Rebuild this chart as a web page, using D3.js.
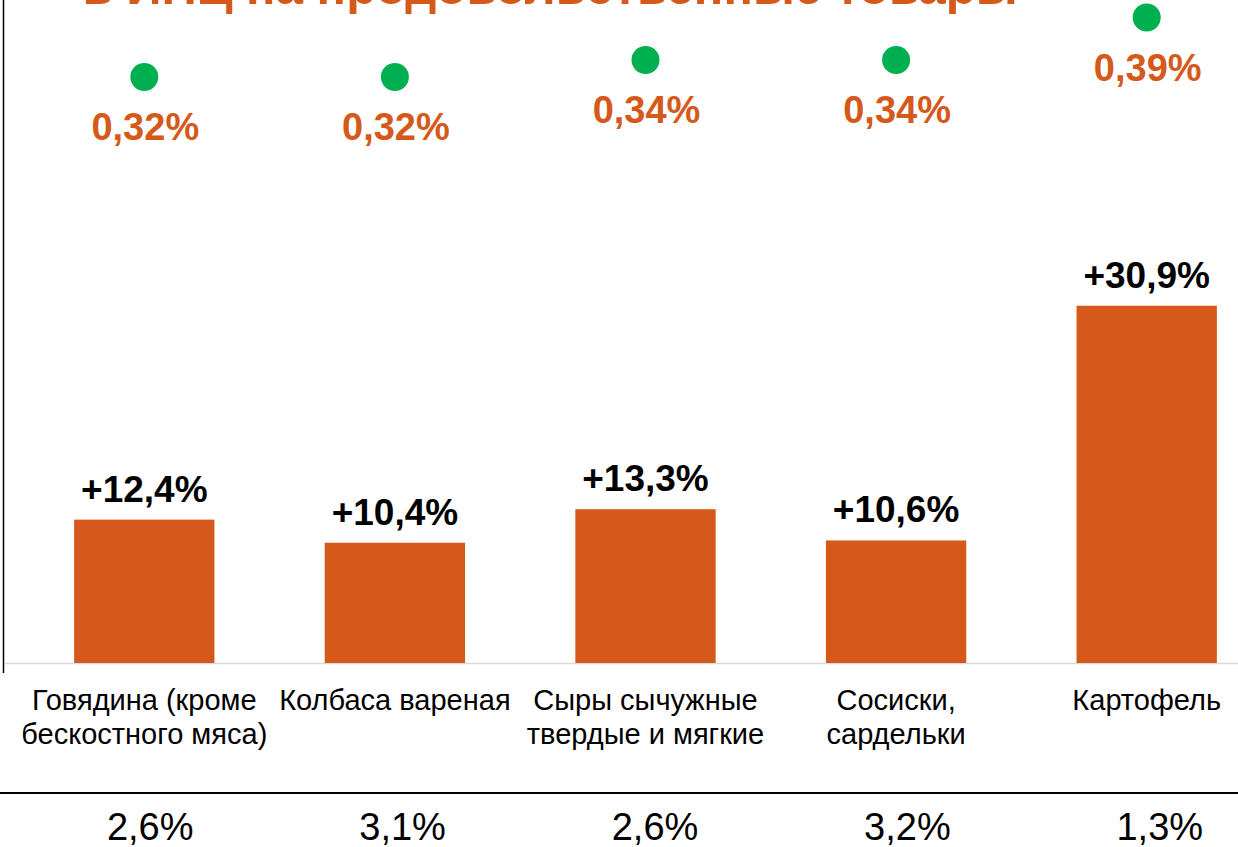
<!DOCTYPE html>
<html>
<head>
<meta charset="utf-8">
<script src="https://cdn.jsdelivr.net/npm/d3@7"></script>
<style>
  html, body { margin: 0; padding: 0; background: #fff; overflow: hidden; }
  svg { display: block; font-family: "Liberation Sans", Arial, sans-serif; }
</style>
</head>
<body>
<svg id="chart" width="1238" height="847"></svg>
<script>
const categories = [
  ["Говядина (кроме", "бескостного мяса)"],
  ["Колбаса вареная"],
  ["Сыры сычужные", "твердые и мягкие"],
  ["Сосиски,", "сардельки"],
  ["Картофель"]
];
const growth = [12.4, 10.4, 13.3, 10.6, 30.9];
const growthLabels = ["+12,4%", "+10,4%", "+13,3%", "+10,6%", "+30,9%"];
const contribution = [0.32, 0.32, 0.34, 0.34, 0.39];
const contributionLabels = ["0,32%", "0,32%", "0,34%", "0,34%", "0,39%"];
const weights = [2.6, 3.1, 2.6, 3.2, 1.3];
const weightLabels = ["2,6%", "3,1%", "2,6%", "3,2%", "1,3%"];
const titleText = "в ИПЦ на продовольственные товары";

const ORANGE = "#D5591A";
const GREEN = "#00B050";

const svg = d3.select("#chart");
const idx = d3.range(categories.length);

const x = d3.scaleBand().domain(idx).range([19, 1272]).paddingInner(0.44).paddingOuter(0.22);
const y = d3.scaleLinear().domain([0, 40]).range([663, 663 - 462.5]);
const y2 = d3.scaleLinear().domain([0.3, 0.4]).range([94, 9]);
const xb = d3.scaleBand().domain(idx).range([24, 1286]);

// title (cut off at top, as in the reference)
svg.append("text")
  .attr("x", 550).attr("y", 4)
  .attr("text-anchor", "middle")
  .attr("fill", ORANGE)
  .attr("font-weight", "bold")
  .attr("font-size", 49)
  .text(titleText);

// left vertical line
svg.append("line")
  .attr("x1", 3.5).attr("x2", 3.5)
  .attr("y1", 0).attr("y2", 673)
  .attr("stroke", "#000").attr("stroke-width", 1.5);

// baseline
svg.append("line")
  .attr("x1", 5).attr("x2", 1238)
  .attr("y1", y(0) + 0.5).attr("y2", y(0) + 0.5)
  .attr("stroke", "#d9d9d9").attr("stroke-width", 1.5);

// bars
svg.append("g").selectAll("rect").data(idx).join("rect")
  .attr("x", i => x(i))
  .attr("width", x.bandwidth())
  .attr("y", i => y(growth[i]))
  .attr("height", i => y(0) - y(growth[i]))
  .attr("fill", ORANGE);

// bar labels
svg.append("g").selectAll("text").data(idx).join("text")
  .attr("x", i => x(i) + x.bandwidth() / 2)
  .attr("y", i => y(growth[i]) - 18)
  .attr("text-anchor", "middle")
  .attr("font-weight", "bold")
  .attr("font-size", 37)
  .attr("fill", "#000")
  .text(i => growthLabels[i]);

// green dots
svg.append("g").selectAll("circle").data(idx).join("circle")
  .attr("cx", i => x(i) + x.bandwidth() / 2)
  .attr("cy", i => y2(contribution[i]))
  .attr("r", 14)
  .attr("fill", GREEN);

// dot labels
svg.append("g").selectAll("text").data(idx).join("text")
  .attr("x", i => x(i) + x.bandwidth() / 2 + 1)
  .attr("y", i => y2(contribution[i]) + 63)
  .attr("text-anchor", "middle")
  .attr("font-weight", "bold")
  .attr("font-size", 38)
  .attr("fill", ORANGE)
  .text(i => contributionLabels[i]);

// category labels
const cat = svg.append("g").selectAll("text").data(idx).join("text")
  .attr("text-anchor", "middle")
  .attr("font-size", 29)
  .attr("fill", "#000");
cat.each(function(i) {
  const t = d3.select(this);
  categories[i].forEach((line, k) => {
    t.append("tspan")
      .attr("x", x(i) + x.bandwidth() / 2)
      .attr("y", 710 + k * 34)
      .text(line);
  });
});

// bottom separator line
svg.append("line")
  .attr("x1", 0).attr("x2", 1238)
  .attr("y1", 793).attr("y2", 793)
  .attr("stroke", "#000").attr("stroke-width", 2);

// bottom weights
svg.append("g").selectAll("text").data(idx).join("text")
  .attr("x", i => xb(i) + xb.bandwidth() / 2)
  .attr("y", 840)
  .attr("text-anchor", "middle")
  .attr("font-size", 38)
  .attr("fill", "#000")
  .text(i => weightLabels[i]);
</script>
</body>
</html>
